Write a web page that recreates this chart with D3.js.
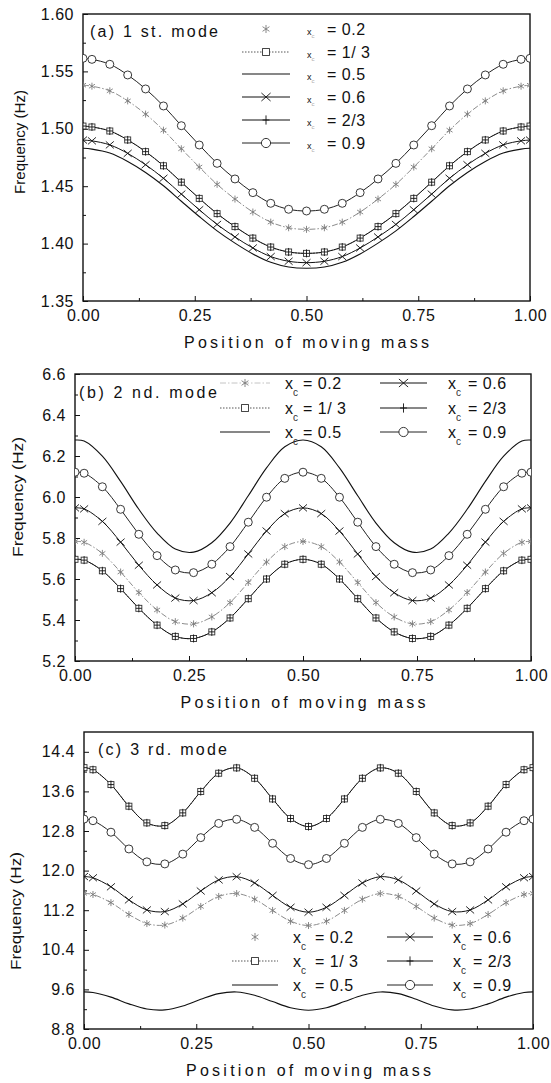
<!DOCTYPE html>
<html>
<head>
<meta charset="utf-8">
<script src="https://cdn.jsdelivr.net/npm/d3@7"></script>
<style>
  body { margin: 0; background: #fff; }
  svg { font-family: "Liberation Sans", Arial, sans-serif; }
</style>
</head>
<body>
<svg id="fig" width="551" height="1083"></svg>
<script>
// Frequency vs. position of moving mass, three modes, six crack positions x_c

// shared grid: position of moving mass (normalised)
const positions = [0, 0.02, 0.06, 0.10, 0.14, 0.18, 0.22, 0.26, 0.30, 0.34, 0.38, 0.42, 0.46, 0.50,
  0.54, 0.58, 0.62, 0.66, 0.70, 0.74, 0.78, 0.82, 0.86, 0.90, 0.94, 0.98, 1.00];

// (a) 1st mode
const a02 = [1.5380,1.5371,1.5331,1.5243,1.5128,1.4988,1.4826,1.4667,1.4516,1.4388,1.4275,1.4187,1.4138,1.4124,1.4138,1.4187,1.4275,1.4388,1.4516,1.4667,1.4826,1.4988,1.5128,1.5243,1.5331,1.5371,1.5380];
const a13 = [1.5024,1.5016,1.4981,1.4903,1.4801,1.4678,1.4535,1.4394,1.4261,1.4148,1.4048,1.3970,1.3927,1.3915,1.3927,1.3970,1.4048,1.4148,1.4261,1.4394,1.4535,1.4678,1.4801,1.4903,1.4981,1.5016,1.5024];
const a05 = [1.4830,1.4823,1.4789,1.4716,1.4620,1.4504,1.4369,1.4236,1.4111,1.4004,1.3910,1.3837,1.3796,1.3785,1.3796,1.3837,1.3910,1.4004,1.4111,1.4236,1.4369,1.4504,1.4620,1.4716,1.4789,1.4823,1.4830];
const a06 = [1.4902,1.4895,1.4860,1.4786,1.4687,1.4569,1.4431,1.4295,1.4167,1.4058,1.3962,1.3887,1.3846,1.3834,1.3846,1.3887,1.3962,1.4058,1.4167,1.4295,1.4431,1.4569,1.4687,1.4786,1.4860,1.4895,1.4902];
const a23 = [1.5024,1.5016,1.4981,1.4903,1.4801,1.4678,1.4535,1.4394,1.4261,1.4148,1.4048,1.3970,1.3927,1.3915,1.3927,1.3970,1.4048,1.4148,1.4261,1.4394,1.4535,1.4678,1.4801,1.4903,1.4981,1.5016,1.5024];
const a09 = [1.5614,1.5605,1.5562,1.5469,1.5347,1.5199,1.5027,1.4859,1.4699,1.4563,1.4444,1.4351,1.4299,1.4284,1.4299,1.4351,1.4444,1.4563,1.4699,1.4859,1.5027,1.5199,1.5347,1.5469,1.5562,1.5605,1.5614];

// (b) 2nd mode
const b02 = [5.783,5.779,5.725,5.634,5.534,5.449,5.392,5.381,5.415,5.485,5.583,5.683,5.758,5.783,5.758,5.683,5.583,5.485,5.415,5.381,5.392,5.449,5.534,5.634,5.725,5.779,5.783];
const b13 = [5.696,5.692,5.640,5.553,5.457,5.375,5.320,5.310,5.342,5.410,5.504,5.600,5.672,5.696,5.672,5.600,5.504,5.410,5.342,5.310,5.320,5.375,5.457,5.553,5.640,5.692,5.696];
const b05 = [6.278,6.273,6.199,6.076,5.940,5.824,5.746,5.731,5.777,5.873,6.006,6.142,6.245,6.278,6.245,6.142,6.006,5.873,5.777,5.731,5.746,5.824,5.940,6.076,6.199,6.273,6.278];
const b06 = [5.947,5.942,5.881,5.780,5.667,5.571,5.507,5.495,5.533,5.612,5.722,5.834,5.919,5.947,5.919,5.834,5.722,5.612,5.533,5.495,5.507,5.571,5.667,5.780,5.881,5.942,5.947];
const b23 = [5.696,5.692,5.640,5.553,5.457,5.375,5.320,5.310,5.342,5.410,5.504,5.600,5.672,5.696,5.672,5.600,5.504,5.410,5.342,5.310,5.320,5.375,5.457,5.553,5.640,5.692,5.696];
const b09 = [6.121,6.116,6.050,5.940,5.818,5.714,5.644,5.631,5.672,5.758,5.877,5.999,6.091,6.121,6.091,5.999,5.877,5.758,5.672,5.631,5.644,5.714,5.818,5.940,6.050,6.116,6.121];

// (c) 3rd mode
const c02 = [11.540,11.517,11.353,11.114,10.930,10.900,11.041,11.276,11.478,11.537,11.422,11.195,10.978,10.890,10.978,11.195,11.422,11.537,11.478,11.276,11.041,10.900,10.930,11.114,11.353,11.517,11.540];
const c13 = [14.080,14.038,13.738,13.301,12.964,12.909,13.166,13.597,13.967,14.075,13.865,13.448,13.052,12.890,13.052,13.448,13.865,14.075,13.967,13.597,13.166,12.909,12.964,13.301,13.738,14.038,14.080];
const c05 = [9.550,9.537,9.444,9.308,9.203,9.186,9.266,9.400,9.515,9.549,9.483,9.354,9.230,9.180,9.230,9.354,9.483,9.549,9.515,9.400,9.266,9.186,9.203,9.308,9.444,9.537,9.550];
const c06 = [11.880,11.855,11.673,11.408,11.205,11.172,11.327,11.588,11.812,11.877,11.750,11.498,11.258,11.160,11.258,11.498,11.750,11.877,11.812,11.588,11.327,11.172,11.205,11.408,11.673,11.855,11.880];
const c23 = [14.080,14.038,13.738,13.301,12.964,12.909,13.166,13.597,13.967,14.075,13.865,13.448,13.052,12.890,13.052,13.448,13.865,14.075,13.967,13.597,13.166,12.909,12.964,13.301,13.738,14.038,14.080];
const c09 = [13.040,13.008,12.776,12.437,12.177,12.135,12.333,12.666,12.953,13.036,12.873,12.551,12.245,12.120,12.245,12.551,12.873,13.036,12.953,12.666,12.333,12.135,12.177,12.437,12.776,13.008,13.040];

// crack positions (legend text)
const crackLabels = ["0.2", "1/ 3", "0.5", "0.6", "2/3", "0.9"];

// ticks
const xTicks = [0, 0.25, 0.5, 0.75, 1];
const xMinor = [0.125, 0.375, 0.625, 0.875];
const yTicksA = [1.35, 1.40, 1.45, 1.50, 1.55, 1.60];
const yMinorA = [1.375, 1.425, 1.475, 1.525, 1.575];
const yTicksB = [5.2, 5.4, 5.6, 5.8, 6.0, 6.2, 6.4, 6.6];
const yMinorB = [5.3, 5.5, 5.7, 5.9, 6.1, 6.3, 6.5];
const yTicksC = [8.8, 9.6, 10.4, 11.2, 12.0, 12.8, 13.6, 14.4];
const yMinorC = [9.2, 10.0, 10.8, 11.6, 12.4, 13.2, 14.0];

// line / marker style per crack position
const seriesStyle = {
  "0.2":  { stroke: "#8c8c8c", width: 1,   dash: "6,2,1.5,2", mark: "asterisk", markColor: "#7c7c7c" },
  "1/ 3": { stroke: "#444",    width: 0.9, dash: "1.5,1.5",   mark: "square",   markColor: "#333" },
  "0.5":  { stroke: "#111",    width: 1.1, dash: null,        mark: null },
  "0.6":  { stroke: "#111",    width: 1,   dash: null,        mark: "times",    markColor: "#111" },
  "2/3":  { stroke: "#111",    width: 1,   dash: null,        mark: "plus",     markColor: "#111" },
  "0.9":  { stroke: "#222",    width: 1,   dash: null,        mark: "circle",   markColor: "#222" }
};

const panels = [
  {
    key: "a", box: { left: 83, top: 14, right: 530, bottom: 301 },
    yDomain: [1.35, 1.60], yTicks: yTicksA, yMinor: yMinorA, yFormat: ".2f",
    tag: "(a) 1 st. mode", tagPos: [90, 37], tagLen: 128,
    values: [a02, a13, a05, a06, a23, a09],
    yTitle: { x: 20, y: 142, len: 104 },
    legend: { rows: [29, 52, 74, 97, 120, 143], cols: [{ x0: 242, x1: 290, xc: 307, eq: 327 }],
              perCol: 6, xSize: 9, noLine02: true }
  },
  {
    key: "b", box: { left: 75, top: 374, right: 531, bottom: 661 },
    yDomain: [5.2, 6.6], yTicks: yTicksB, yMinor: yMinorB, yFormat: ".1f",
    tag: "(b) 2 nd. mode", tagPos: [79, 398], tagLen: 138,
    values: [b02, b13, b05, b06, b23, b09],
    yTitle: { x: 18, y: 497, len: 120 },
    legend: { rows: [383, 408, 432], cols: [{ x0: 220, x1: 270, xc: 285, eq: 303 }, { x0: 380, x1: 427, xc: 448, eq: 468 }],
              perCol: 3, xSize: 16, noLine02: false }
  },
  {
    key: "c", box: { left: 84, top: 732, right: 533, bottom: 1029 },
    yDomain: [8.8, 14.8], yTicks: yTicksC, yMinor: yMinorC, yFormat: ".1f",
    tag: "(c) 3 rd. mode", tagPos: [98, 755], tagLen: 129,
    values: [c02, c13, c05, c06, c23, c09],
    yTitle: { x: 16, y: 911, len: 118 },
    legend: { rows: [937, 961, 985], cols: [{ x0: 232, x1: 278, xc: 293, eq: 315 }, { x0: 387, x1: 433, xc: 453, eq: 473 }],
              perCol: 3, xSize: 16, noLine02: true }
  }
];

const svg = d3.select("#fig");

function drawMark(g, type, cx, cy, color, scale) {
  if (!type) return;
  const k = scale || 1;
  const m = g.append("g")
    .attr("transform", `translate(${cx},${cy}) scale(${k})`)
    .attr("fill", "none").attr("stroke", color).attr("stroke-width", 0.9 / k);
  if (type === "circle") m.append("circle").attr("r", 4).attr("fill", "#fff");
  else if (type === "square") m.append("rect").attr("x", -3).attr("y", -3).attr("width", 6).attr("height", 6).attr("fill", "#fff");
  else if (type === "times") m.append("path").attr("d", "M-4,-3.5L4,3.5M-4,3.5L4,-3.5");
  else if (type === "plus") m.append("path").attr("d", "M0,-4V4M-3,0H3");
  else if (type === "asterisk") m.append("path").attr("d", "M0,-3.5V3.5M-3,-2L3,2M-3,2L3,-2");
}

panels.forEach(p => {
  const b = p.box;
  const x = d3.scaleLinear().domain([0, 1]).range([b.left, b.right]);
  const y = d3.scaleLinear().domain(p.yDomain).range([b.bottom, b.top]);
  const g = svg.append("g").attr("class", "panel-" + p.key);

  const clipId = "clip-" + p.key;
  svg.append("clipPath").attr("id", clipId)
    .append("rect").attr("x", b.left).attr("y", b.top)
    .attr("width", b.right - b.left).attr("height", b.bottom - b.top);

  // axes, ticks pointing inward
  g.append("g").attr("transform", `translate(${b.left},0)`)
    .call(d3.axisLeft(y).tickValues(p.yTicks).tickFormat(d3.format(p.yFormat))
      .tickSizeInner(-5).tickSizeOuter(0).tickPadding(9));
  g.append("g").attr("transform", `translate(${b.left},0)`)
    .call(d3.axisLeft(y).tickValues(p.yMinor).tickFormat("").tickSizeInner(-3).tickSizeOuter(0));
  g.append("g").attr("transform", `translate(0,${b.bottom})`)
    .call(d3.axisBottom(x).tickValues(xTicks).tickFormat(d3.format(".2f"))
      .tickSizeInner(-5).tickSizeOuter(0).tickPadding(9));
  g.append("g").attr("transform", `translate(0,${b.bottom})`)
    .call(d3.axisBottom(x).tickValues(xMinor).tickFormat("").tickSizeInner(-3).tickSizeOuter(0));

  g.selectAll(".domain").remove();
  g.selectAll(".tick line").attr("stroke", "#111").attr("stroke-width", 1);
  g.selectAll(".tick text").attr("font-size", 16).attr("fill", "#111")
    .attr("font-family", '"Liberation Sans", Arial, sans-serif').attr("letter-spacing", 0.5);

  // frame
  g.append("rect").attr("x", b.left).attr("y", b.top)
    .attr("width", b.right - b.left).attr("height", b.bottom - b.top)
    .attr("fill", "none").attr("stroke", "#111").attr("stroke-width", 1.4);

  // axis titles
  g.append("text").attr("x", (b.left + b.right) / 2).attr("y", b.bottom + 47)
    .attr("text-anchor", "middle").attr("font-size", 16).attr("fill", "#111")
    .attr("textLength", 245).attr("lengthAdjust", "spacing")
    .text("Position of moving mass");
  g.append("text")
    .attr("transform", `translate(${p.yTitle.x},${p.yTitle.y}) rotate(-90)`)
    .attr("text-anchor", "middle").attr("dy", "0.35em").attr("font-size", 15).attr("fill", "#111")
    .attr("textLength", p.yTitle.len).attr("lengthAdjust", "spacingAndGlyphs")
    .text("Frequency (Hz)");

  // panel tag
  g.append("text").attr("x", p.tagPos[0]).attr("y", p.tagPos[1])
    .attr("font-size", 16).attr("fill", "#111")
    .attr("textLength", p.tagLen).attr("lengthAdjust", "spacing")
    .text(p.tag);

  // curves
  const line = d3.line().x(d => x(d[0])).y(d => y(d[1])).curve(d3.curveCatmullRom.alpha(0.5));
  const plot = g.append("g").attr("clip-path", `url(#${clipId})`);
  crackLabels.forEach((lab, i) => {
    const st = seriesStyle[lab];
    const pts = positions.map((px, j) => [px, p.values[i][j]]);
    plot.append("path").datum(pts)
      .attr("d", line).attr("fill", "none")
      .attr("stroke", st.stroke).attr("stroke-width", st.width)
      .attr("stroke-dasharray", st.dash);
  });
  crackLabels.forEach((lab, i) => {
    const st = seriesStyle[lab];
    positions.forEach((px, j) => drawMark(plot, st.mark, x(px), y(p.values[i][j]), st.markColor));
  });

  // legend
  const L = p.legend;
  const lg = g.append("g");
  crackLabels.forEach((lab, i) => {
    const st = seriesStyle[lab];
    const col = L.cols[Math.floor(i / L.perCol)];
    const ry = L.rows[i % L.perCol];
    if (!(lab === "0.2" && L.noLine02)) {
      lg.append("line").attr("x1", col.x0).attr("x2", col.x1).attr("y1", ry).attr("y2", ry)
        .attr("stroke", lab === "0.2" ? "#c4c4c4" : st.stroke).attr("stroke-width", st.width)
        .attr("stroke-dasharray", st.dash);
    }
    drawMark(lg, st.mark, (col.x0 + col.x1) / 2, ry, st.markColor, 1.15);
    const t = lg.append("text").attr("x", col.xc).attr("y", ry).attr("dy", "0.35em").attr("fill", "#111");
    t.append("tspan").attr("font-size", L.xSize).text("x");
    t.append("tspan").attr("font-size", L.xSize < 12 ? 6 : 10).attr("dy", L.xSize < 12 ? 3 : 7)
      .attr("fill", L.xSize < 12 ? "#aaa" : "#333").text("c");
    lg.append("text").attr("x", col.eq).attr("y", ry).attr("dy", "0.35em")
      .attr("font-size", 16).attr("fill", "#111").attr("letter-spacing", 0.5)
      .text("= " + lab);
  });
});
</script>
</body>
</html>
